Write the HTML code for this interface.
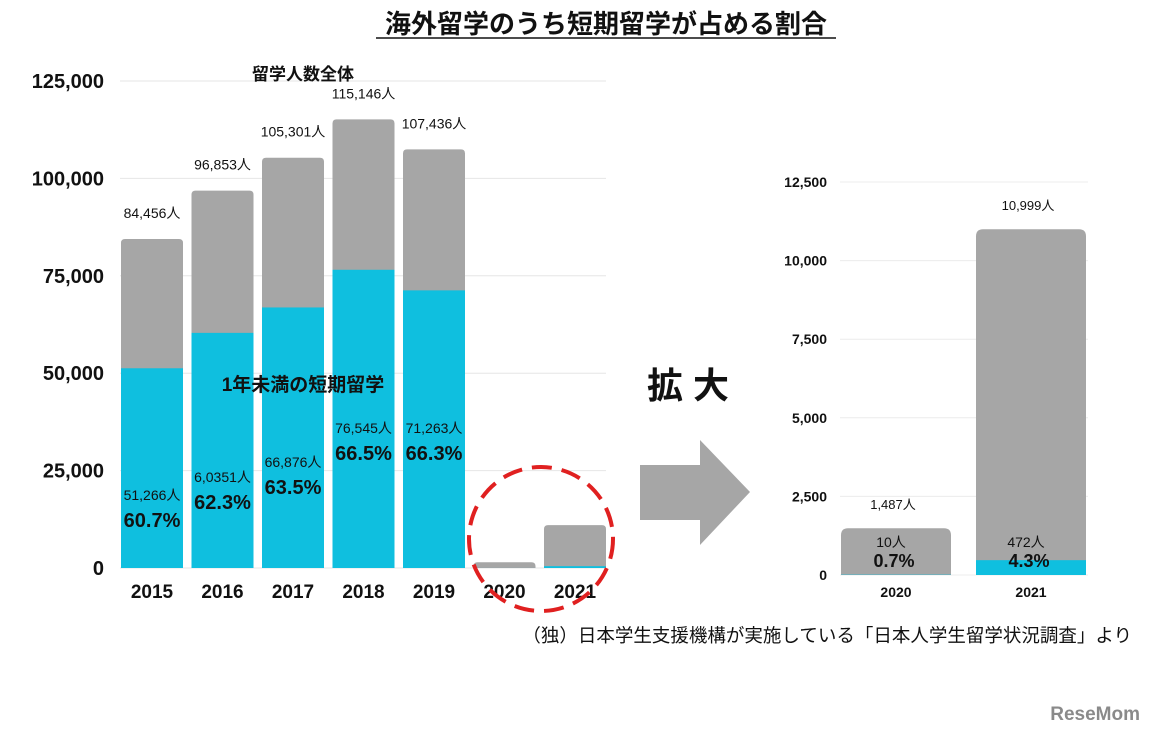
<!DOCTYPE html>
<html><head><meta charset="utf-8">
<style>
body{margin:0;background:#fff;width:1152px;height:734px;overflow:hidden;font-family:"Liberation Sans","Noto Sans CJK JP",sans-serif;}
svg text{font-family:"Liberation Sans","Noto Sans CJK JP",sans-serif;}
</style></head>
<body>
<svg id="c" width="1152" height="734">
<text x="606" y="33" text-anchor="middle" font-size="26" font-weight="bold" fill="#111">海外留学のうち短期留学が占める割合</text>
<line x1="376" y1="38" x2="836" y2="38" stroke="#111" stroke-width="1.5"/>
<g id="left"></g><g id="right"></g>
<text x="303" y="80" text-anchor="middle" font-size="17" font-weight="bold" fill="#111">留学人数全体</text>
<text x="303" y="391" text-anchor="middle" font-size="19" font-weight="bold" fill="#111">1年未満の短期留学</text>
<circle cx="541" cy="539" r="72" fill="none" stroke="#e02020" stroke-width="4" stroke-dasharray="20 10"/>
<text x="688" y="398" text-anchor="middle" font-size="36" font-weight="bold" fill="#111">拡 大</text>
<polygon points="640,465 700,465 700,440 750,492 700,545 700,520 640,520" fill="#a6a6a6"/>
<text x="1132" y="642" text-anchor="end" font-size="18.5" fill="#111">（独）日本学生支援機構が実施している「日本人学生留学状況調査」より</text>
<text x="1140" y="720" text-anchor="end" font-size="19" font-weight="bold" fill="#8a8a8a">ReseMom</text>
</svg>
<script>
const years=["2015","2016","2017","2018","2019","2020","2021"];
const totals=[84456,96853,105301,115146,107436,1487,10999];
const shorts=[51266,60351,66876,76545,71263,10,472];
const totalLabels=["84,456人","96,853人","105,301人","115,146人","107,436人"];
const shortLabels=["51,266人","6,0351人","66,876人","76,545人","71,263人"];
const pctLabels=["60.7%","62.3%","63.5%","66.5%","66.3%"];
const leftTicks=[0,25000,50000,75000,100000,125000];
const rYears=["2020","2021"];
const rTotals=[1487,10999];
const rShorts=[10,472];
const rTotalLabels=["1,487人","10,999人"];
const rShortLabels=["10人","472人"];
const rPct=["0.7%","4.3%"];
const rightTicks=[0,2500,5000,7500,10000,12500];
// label y positions (layout, not data)
const labelYs=[500,482,467,433,433];
const NS="http://www.w3.org/2000/svg";
function mk(p,t,a,txt){const e=document.createElementNS(NS,t);for(const k in a)e.setAttribute(k,a[k]);if(txt!=null)e.textContent=txt;p.appendChild(e);return e;}
function barPath(x,y,w,h,r){r=Math.min(r,h);return `M${x},${y+h}V${y+r}Q${x},${y} ${x+r},${y}H${x+w-r}Q${x+w},${y} ${x+w},${y+r}V${y+h}Z`;}
const L=document.getElementById('left');
const ly=v=>568-v/125000*487, lx=i=>121+i*70.5, bw=62;
leftTicks.forEach(t=>{
 const g=mk(L,'line',{x1:120,x2:606,y1:ly(t),y2:ly(t),stroke:'#e6e6e6'});
 
 const tx=mk(L,'text',{x:104,y:ly(t)+7,'text-anchor':'end','font-size':20,'font-weight':'bold',fill:'#111'},t.toLocaleString('en-US'));
 
});
years.forEach((y,i)=>{
 const x=lx(i);
 const b=mk(L,'path',{d:barPath(x,ly(totals[i]),bw,568-ly(totals[i]),4),fill:'#a6a6a6'});
 
 const s=mk(L,'rect',{x:x,y:ly(shorts[i]),width:bw,height:568-ly(shorts[i]),fill:'#0fbfdf'});
 
 const xl=mk(L,'text',{x:x+bw/2,y:598,'text-anchor':'middle','font-size':19,'font-weight':'bold',fill:'#111'},y);
 
 if(i<5){
  const tl=mk(L,'text',{x:x+bw/2,y:ly(totals[i])-21,'text-anchor':'middle','font-size':14,fill:'#111'},totalLabels[i]);
  
  const sl=mk(L,'text',{x:x+bw/2,y:labelYs[i],'text-anchor':'middle','font-size':14,fill:'#111'},shortLabels[i]);
  
  const pl=mk(L,'text',{x:x+bw/2,y:labelYs[i]+27,'text-anchor':'middle','font-size':20,'font-weight':'bold',fill:'#111'},pctLabels[i]);
  
 }
});
const R=document.getElementById('right');
const ry=v=>575-v/12500*393, rx=i=>841+i*135, rw=110;
rightTicks.forEach(t=>{
 const g=mk(R,'line',{x1:840,x2:1088,y1:ry(t),y2:ry(t),stroke:'#ececec'});
 
 const tx=mk(R,'text',{x:827,y:ry(t)+5,'text-anchor':'end','font-size':14,'font-weight':'bold',fill:'#111'},t.toLocaleString('en-US'));
 
});
rYears.forEach((y,i)=>{
 const x=rx(i);
 const b=mk(R,'path',{d:barPath(x,ry(rTotals[i]),rw,575-ry(rTotals[i]),7),fill:'#a6a6a6'});
 
 const s=mk(R,'rect',{x:x,y:ry(rShorts[i]),width:rw,height:575-ry(rShorts[i]),fill:'#0fbfdf'});
 
 const xl=mk(R,'text',{x:x+rw/2,y:597,'text-anchor':'middle','font-size':14,'font-weight':'bold',fill:'#111'},y);
 
 const tl=mk(R,'text',{x:x+rw/2-3,y:ry(rTotals[i])-19,'text-anchor':'middle','font-size':13,fill:'#111'},rTotalLabels[i]);
 
 const sl=mk(R,'text',{x:x+rw/2-5,y:547,'text-anchor':'middle','font-size':14,fill:'#111'},rShortLabels[i]);
 
 const pl=mk(R,'text',{x:x+rw/2-2,y:567,'text-anchor':'middle','font-size':18,'font-weight':'bold',fill:'#111'},rPct[i]);
 
});
</script>
</body></html>
